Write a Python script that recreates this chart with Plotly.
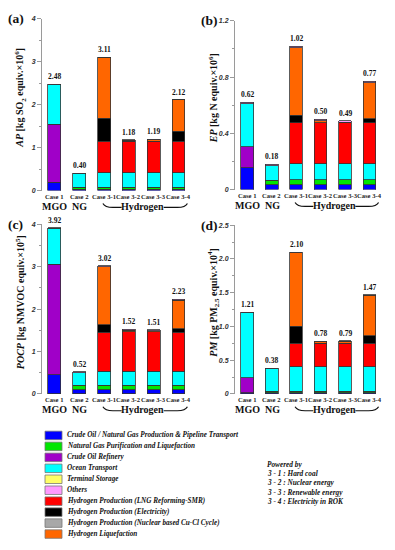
import plotly.graph_objects as go

CASES = ["Case 1", "Case 2", "Case 3-1", "Case 3-2", "Case 3-3", "Case 3-4"]
GROUPS = ["MGO", "NG", "Hydrogen"]

SEGMENTS = [
    "Crude Oil / Natural Gas Production & Pipeline Transport",
    "Natural Gas Purification and Liquefaction",
    "Crude Oil Refinery",
    "Ocean Transport",
    "Terminal Storage",
    "Others",
    "Hydrogen Production (LNG Reforming-SMR)",
    "Hydrogen Production (Electricity)",
    "Hydrogen Production (Nuclear based Cu-Cl Cycle)",
    "Hydrogen Liquefaction",
]
COLORS = ["#0000FF", "#00E600", "#A000C8", "#00FFFF", "#FFFF66",
          "#FF99FF", "#FF0000", "#000000", "#A8A8A8", "#FF6600"]
STACK_ORDER = [0, 1, 2, 3, 4, 6, 7, 8, 9, 5]

N = None
# rows follow SEGMENTS order
AP = [
    [0.20, 0.03, 0.03, 0.03, 0.03, 0.03],
    [N, 0.05, 0.05, 0.05, 0.05, 0.05],
    [1.35, N, N, N, N, N],
    [0.91, 0.31, 0.34, 0.34, 0.34, 0.34],
    [N, N, N, N, N, N],
    [0.02, 0.01, 0.01, 0.01, 0.01, 0.01],
    [N, N, 0.73, 0.73, 0.73, 0.73],
    [N, N, 0.53, N, N, 0.23],
    [N, N, N, N, N, N],
    [N, N, 1.42, 0.02, 0.03, 0.73],
]
EP = [
    [0.155, 0.035, 0.035, 0.035, 0.035, 0.035],
    [N, 0.03, 0.035, 0.035, 0.035, 0.035],
    [0.15, N, N, N, N, N],
    [0.305, 0.105, 0.115, 0.115, 0.115, 0.115],
    [N, N, N, N, N, N],
    [0.01, 0.01, 0.01, 0.01, 0.01, 0.01],
    [N, N, 0.29, 0.29, 0.29, 0.29],
    [N, N, 0.055, N, N, 0.03],
    [N, N, N, N, N, N],
    [N, N, 0.48, 0.015, 0.005, 0.255],
]
POCP = [
    [0.45, 0.10, 0.10, 0.10, 0.10, 0.10],
    [N, 0.10, 0.11, 0.11, 0.11, 0.11],
    [2.60, N, N, N, N, N],
    [0.85, 0.30, 0.32, 0.32, 0.32, 0.32],
    [N, N, N, N, N, N],
    [0.02, 0.02, 0.02, 0.02, 0.02, 0.02],
    [N, N, 0.92, 0.93, 0.93, 0.92],
    [N, N, 0.18, N, N, 0.09],
    [N, N, N, N, N, N],
    [N, N, 1.37, 0.04, 0.03, 0.67],
]
PM = [
    [0.02, 0.02, 0.02, 0.02, 0.02, 0.02],
    [N, 0.02, 0.02, 0.02, 0.02, 0.02],
    [0.22, N, N, N, N, N],
    [0.96, 0.33, 0.36, 0.36, 0.36, 0.36],
    [N, N, N, N, N, N],
    [0.01, 0.01, 0.01, 0.01, 0.01, 0.01],
    [N, N, 0.35, 0.35, 0.35, 0.35],
    [N, N, 0.25, N, N, 0.11],
    [N, N, N, N, N, N],
    [N, N, 1.09, 0.02, 0.03, 0.60],
]
AP_TOTAL = [2.48, 0.40, 3.11, 1.18, 1.19, 2.12]
EP_TOTAL = [0.62, 0.18, 1.02, 0.50, 0.49, 0.77]
POCP_TOTAL = [3.92, 0.52, 3.02, 1.52, 1.51, 2.23]
PM_TOTAL = [1.21, 0.38, 2.10, 0.78, 0.79, 1.47]

AP_TICKS = ["0", "1", "2", "3", "4"]
EP_TICKS = ["0", "0.4", "0.8", "1.2"]
POCP_TICKS = ["0", "1", "2", "3", "4"]
PM_TICKS = ["0", "0.5", "1.0", "1.5", "2.0", "2.5"]

POWERED = ["Powered by", "3 - 1 : Hard coal", "3 - 2 : Nuclear energy",
           "3 - 3 : Renewable energy", "3 - 4 : Electricity in ROK"]

W, H = 395, 550
SERIF = "Liberation Serif, Times New Roman, serif"
SANS = "Liberation Sans, Arial, sans-serif"


def px(x):
    return x / W


def py(y):
    return 1 - y / H


panels = [
    (AP, AP_TOTAL, AP_TICKS, [0, 1, 2, 3, 4], 0.5, [0, 4],
     "<i>AP</i> [kg SO<sub>2</sub> equiv.×10<sup>6</sup>]", "(a)", (42, 193), (189, 15)),
    (EP, EP_TOTAL, EP_TICKS, [0, 0.4, 0.8, 1.2], 0.2, [0, 1.2],
     "<i>EP</i> [kg N equiv.×10<sup>6</sup>]", "(b)", (235, 384), (188, 17)),
    (POCP, POCP_TOTAL, POCP_TICKS, [0, 1, 2, 3, 4], 0.5, [0, 4],
     "<i>POCP</i> [kg NMVOC equiv.×10<sup>5</sup>]", "(c)", (42, 193), (395, 223)),
    (PM, PM_TOTAL, PM_TICKS, [0, 0.5, 1.0, 1.5, 2.0, 2.5], 0.25, [0, 2.5],
     "<i>PM</i> [kg PM<sub>2.5</sub> equiv.×10<sup>4</sup>]", "(d)", (235, 384), (395, 224)),
]

fig = go.Figure()
annotations = []
shapes = []
layout = {}

for i, (data, totals, ticks, tickvals, minor, yr, title, label, xd, yd) in enumerate(panels):
    sfx = "" if i == 0 else str(i + 1)
    xa, ya = "x" + sfx, "y" + sfx
    for k in STACK_ORDER:
        fig.add_trace(go.Bar(
            x=CASES, y=data[k], name=SEGMENTS[k], xaxis=xa, yaxis=ya,
            marker=dict(color=COLORS[k], line=dict(color="#333333", width=0.8)),
            showlegend=False,
        ))
    layout["xaxis" + sfx] = dict(
        domain=[px(xd[0]), px(xd[1])], anchor=ya, showline=False, ticks="",
        showticklabels=False, showgrid=False, zeroline=False,
    )
    layout["yaxis" + sfx] = dict(
        domain=[py(yd[0]), py(yd[1])], anchor=xa, range=yr,
        tickvals=tickvals, ticktext=ticks,
        tickfont=dict(family=SANS, size=7, color="#333", weight="bold", style="italic"),
        showline=True, linecolor="#9a9a9a", linewidth=1,
        ticks="outside", ticklen=4, tickcolor="#9a9a9a", tickwidth=1,
        minor=dict(ticks="outside", ticklen=2, dtick=minor, tickcolor="#9a9a9a"),
        showgrid=False, zeroline=False,
    )
    for c in CASES:
        annotations.append(dict(
            x=c, y=py(yd[0] + 6), xref=xa, yref="paper", text=c, showarrow=False,
            xanchor="center", yanchor="middle",
            font=dict(family=SERIF, size=6.6, color="#222", weight="bold")))
    for c, t in zip(CASES, totals):
        annotations.append(dict(
            x=c, y=t, xref=xa, yref=ya, text="%.2f" % t, showarrow=False,
            yanchor="bottom", yshift=1,
            font=dict(family=SERIF, size=7.5, color="#111", weight="bold")))
    annotations.append(dict(
        x=px(xd[0] - 22), y=py((yd[0] + yd[1]) / 2 - 7), xref="paper", yref="paper",
        text=title, textangle=-90, showarrow=False, xanchor="center", yanchor="middle",
        font=dict(family=SERIF, size=10, color="#111", weight="bold")))
    annotations.append(dict(
        x=px(xd[0] - 36), y=py(yd[1]), xref="paper", yref="paper",
        text=label, showarrow=False, xanchor="left", yanchor="middle",
        font=dict(family=SERIF, size=13.5, color="#111", weight="bold")))
    x0 = xd[0]
    step = (xd[1] - xd[0]) / 6.0
    gy = yd[0] + 16
    gfont = dict(family=SERIF, size=10, color="#111", weight="bold")
    for gx, gtext in ((0.5, GROUPS[0]), (1.5, GROUPS[1]), (4.0, GROUPS[2])):
        annotations.append(dict(x=px(x0 + gx * step), y=py(gy), xref="paper", yref="paper",
                                text=gtext, showarrow=False, xanchor="center",
                                yanchor="middle", font=gfont))
    lx0 = x0 + 2.5 * step - 2
    lx1 = x0 + 4.0 * step - 21
    rx0 = x0 + 4.0 * step + 21
    rx1 = x0 + 5.5 * step + 7
    yl = gy + 1
    path_l = "M %f,%f Q %f,%f %f,%f L %f,%f" % (
        px(lx0), py(yl - 4), px(lx0 + 2), py(yl), px(lx0 + 10), py(yl), px(lx1), py(yl))
    path_r = "M %f,%f L %f,%f Q %f,%f %f,%f" % (
        px(rx0), py(yl), px(rx1 - 10), py(yl), px(rx1 - 2), py(yl), px(rx1), py(yl - 4))
    for p in (path_l, path_r):
        shapes.append(dict(type="path", path=p, xref="paper", yref="paper",
                           line=dict(color="#111", width=1.2)))

for j, (name, col) in enumerate(zip(SEGMENTS, COLORS)):
    yc = 437 + j * 11.1
    shapes.append(dict(type="rect", xref="paper", yref="paper",
                       x0=px(45), x1=px(62), y0=py(yc - 4.3), y1=py(yc + 4.3),
                       fillcolor=col, line=dict(color="#777", width=0.8)))
    annotations.append(dict(x=px(65), y=py(yc), xref="paper", yref="paper", text=name,
                            showarrow=False, xanchor="left", yanchor="middle",
                            font=dict(family=SERIF, size=7.2, color="#111",
                                      weight="bold", style="italic")))

for j, line in enumerate(POWERED):
    annotations.append(dict(x=px(265), y=py(466 + j * 9.5), xref="paper", yref="paper",
                            text=line, showarrow=False, xanchor="left", yanchor="middle",
                            font=dict(family=SERIF, size=7.3, color="#111",
                                      weight="bold", style="italic")))

fig.update_layout(
    width=W, height=H, margin=dict(l=0, r=0, t=0, b=0),
    paper_bgcolor="white", plot_bgcolor="white",
    barmode="stack", bargap=0.48, showlegend=False,
    annotations=annotations, shapes=shapes, **layout,
)
fig.write_html(
    "out.html",
    config={"displayModeBar": False},
    post_script="document.body.style.margin='0';document.body.style.overflow='hidden';",
)
